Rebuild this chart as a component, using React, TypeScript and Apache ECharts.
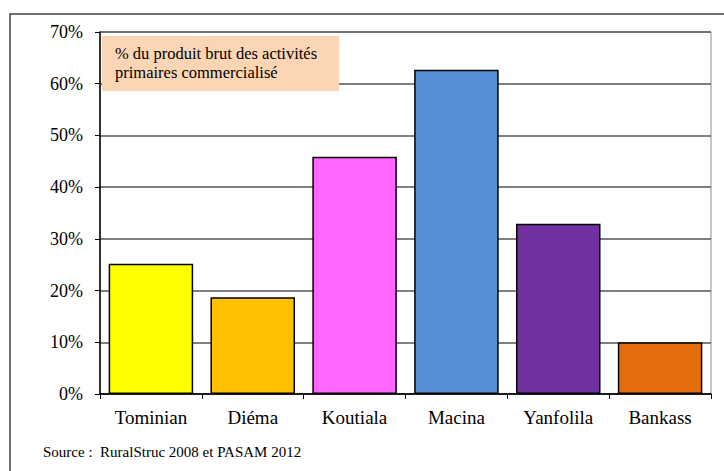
import React, { useEffect, useRef } from "react";
import * as echarts from "echarts";

const categories = ["Tominian", "Diéma", "Koutiala", "Macina", "Yanfolila", "Bankass"];
const values = [25.2, 18.7, 45.9, 62.7, 32.9, 10.0];
const barColors = ["#FFFF00", "#FFC000", "#FF66FF", "#558ED5", "#7030A0", "#E46C0A"];
const boxLines = ["% du produit brut des activités", "primaires commercialisé"];
const sourceText = "Source :  RuralStruc 2008 et PASAM 2012";

export default function App() {
  const ref = useRef<HTMLDivElement>(null);
  useEffect(() => {
    if (!ref.current) return;
    const chart = echarts.init(ref.current, null, { renderer: "svg" });
    const font = "Liberation Serif";
    chart.setOption({
      animation: false,
      backgroundColor: "#ffffff",
      grid: {
        left: 100,
        right: 13,
        top: 32,
        bottom: 77,
        show: true,
        borderColor: "#8c8c8c",
        borderWidth: 1,
        backgroundColor: "transparent",
      },
      xAxis: {
        type: "category",
        data: categories,
        boundaryGap: true,
        axisLine: { show: true, lineStyle: { color: "#000", width: 1.5 } },
        axisTick: { show: true, alignWithLabel: false, length: 5, lineStyle: { color: "#000" } },
        axisLabel: { color: "#000", fontFamily: font, fontSize: 19, margin: 14 },
      },
      yAxis: {
        type: "value",
        min: 0,
        max: 70,
        interval: 10,
        axisLine: { show: true, lineStyle: { color: "#000", width: 1.5 } },
        axisTick: { show: true, length: 5, lineStyle: { color: "#000" } },
        axisLabel: {
          color: "#000",
          fontFamily: font,
          fontSize: 18,
          margin: 17,
          formatter: (v: number) => v + "%",
        },
        splitLine: { show: true, lineStyle: { color: "#555555", width: 1.5 } },
      },
      series: [
        {
          type: "bar",
          barWidth: "83%",
          data: values.map((v, i) => ({
            value: v,
            itemStyle: { color: barColors[i] },
          })),
          itemStyle: { borderColor: "#000", borderWidth: 1.5 },
        },
      ],
      graphic: [
        {
          type: "rect",
          shape: { x: 10, y: 14, width: 800, height: 500 },
          style: { fill: "none", stroke: "#444444", lineWidth: 1.5 },
          silent: true,
        },
        {
          type: "rect",
          shape: { x: 102, y: 36, width: 237, height: 55 },
          style: { fill: "#FCD5B5" },
          z: 100,
        },
        {
          type: "text",
          x: 115,
          y: 44,
          z: 101,
          style: {
            text: boxLines.join("\n"),
            fill: "#000",
            fontFamily: font,
            fontSize: 16.5,
            lineHeight: 19,
          },
        },
        {
          type: "text",
          x: 43,
          y: 444,
          style: {
            text: sourceText,
            fill: "#000",
            fontFamily: font,
            fontSize: 15,
          },
        },
      ],
    });
    return () => chart.dispose();
  }, []);
  return (
    <div
      ref={ref}
      style={{ position: "fixed", left: 0, top: 0, width: 724, height: 471 }}
    />
  );
}
